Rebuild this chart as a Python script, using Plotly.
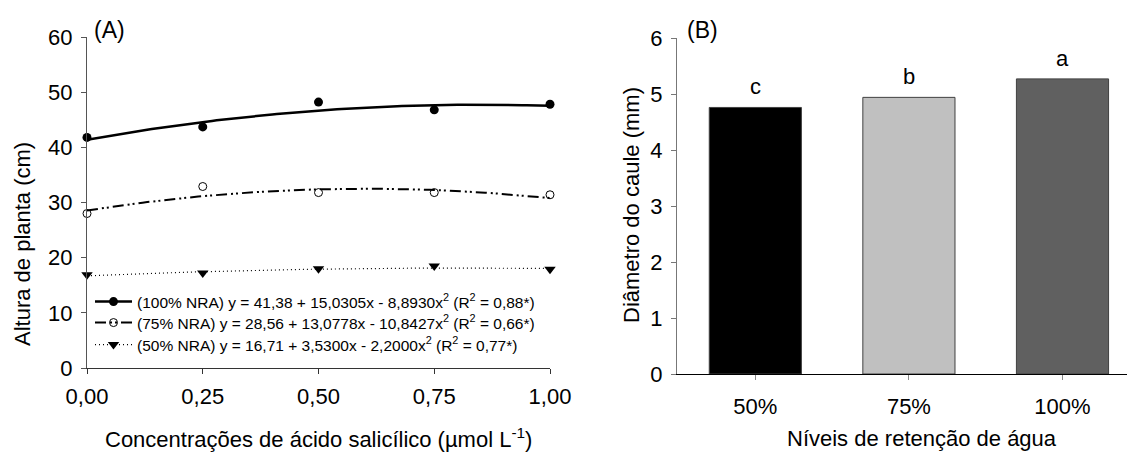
import numpy as np
import plotly.graph_objects as go

# ---------------- Data ----------------
conc = [0.0, 0.25, 0.50, 0.75, 1.00]
conc_ticks = ["0,00", "0,25", "0,50", "0,75", "1,00"]

alt_100 = [41.8, 43.7, 48.2, 46.8, 47.8]
alt_75 = [28.0, 32.9, 31.8, 31.8, 31.4]
alt_50 = [16.9, 17.2, 18.0, 18.5, 17.9]

# regression coefficients (b0, b1, b2) shown in the legend
coef_100 = [41.38, 15.0305, -8.8930]
coef_75 = [28.56, 13.0778, -10.8427]
coef_50 = [16.71, 3.5300, -2.2000]

legend_100 = "(100% NRA) y = 41,38 + 15,0305x - 8,8930x<sup>2</sup> (R<sup>2</sup> = 0,88*)"
legend_75 = "(75% NRA) y = 28,56 + 13,0778x - 10,8427x<sup>2</sup> (R<sup>2</sup> = 0,66*)"
legend_50 = "(50% NRA) y = 16,71 + 3,5300x - 2,2000x<sup>2</sup> (R<sup>2</sup> = 0,77*)"

niveis = ["50%", "75%", "100%"]
diametro = [4.76, 4.94, 5.27]
letras = ["c", "b", "a"]
bar_colors = ["#000000", "#c0c0c0", "#606060"]

FONT = "Liberation Sans, Arial, sans-serif"
W, H = 1128, 455

def px_x(p):
    return p / W

def px_y(p):
    return 1 - p / H

xs = np.linspace(0, 1, 101)

def fit(c):
    return c[0] + c[1] * xs + c[2] * xs ** 2

fig = go.Figure()

series = [
    (alt_100, coef_100, legend_100, "legend", dict(color="black", width=2.5, dash="solid"),
     dict(symbol="circle", size=9, color="black")),
    (alt_75, coef_75, legend_75, "legend2", dict(color="black", width=2, dash="11px,4px,2px,3px,2px,4px"),
     dict(symbol="circle-open", size=8, color="black", line=dict(width=1, color="black"))),
    (alt_50, coef_50, legend_50, "legend3", dict(color="black", width=1.2, dash="1px,3px"),
     dict(symbol="triangle-down", size=10, color="black")),
]

for vals, coef, name, leg, line, marker in series:
    fig.add_trace(go.Scatter(x=xs, y=fit(coef), mode="lines", line=line,
                             showlegend=False, xaxis="x", yaxis="y", hoverinfo="skip"))
    fig.add_trace(go.Scatter(x=conc, y=vals, mode="markers", marker=marker,
                             showlegend=False, xaxis="x", yaxis="y", cliponaxis=False))
    # legend sample (no data drawn)
    fig.add_trace(go.Scatter(x=[None], y=[None], mode="lines+markers", line=line,
                             marker=marker, name=name, legend=leg, xaxis="x", yaxis="y"))

fig.add_trace(go.Bar(x=[0, 1, 2], y=diametro, width=0.6,
                     marker=dict(color=bar_colors, line=dict(color="#404040", width=1)),
                     showlegend=False, xaxis="x2", yaxis="y2"))

def ann(x, y, text, size, **kw):
    d = dict(x=px_x(x), y=px_y(y), xref="paper", yref="paper", text=text, showarrow=False,
             xanchor="center", yanchor="middle", font=dict(size=size, color="black", family=FONT))
    d.update(kw)
    return d

annotations = []
for i, (v, t) in enumerate(zip(diametro, letras)):
    annotations.append(dict(x=i, y=v, xref="x2", yref="y2", text=t, showarrow=False,
                            xanchor="center", yanchor="bottom", yshift=6,
                            font=dict(size=22, color="black", family=FONT)))

annotations += [
    ann(109, 30, "(A)", 23),
    ann(702, 30, "(B)", 23),
    ann(318, 438, "Concentrações de ácido salicílico (µmol L<sup>-1</sup>)", 22),
    ann(922, 438, "Níveis de retenção de água", 22),
    ann(22, 244, "Altura de planta (cm)", 22, textangle=-90),
    ann(632, 205, "Diâmetro do caule (mm)", 22, textangle=-90),
]

tickfont = dict(size=22, color="black", family=FONT)
common = dict(showgrid=False, zeroline=False, showline=True, ticks="outside",
              ticklen=5, tickwidth=1, tickfont=tickfont, automargin=False)

def legend_at(yc):
    return dict(x=px_x(90), y=px_y(yc), xanchor="left", yanchor="middle",
                font=dict(size=15.5, color="black", family=FONT), bgcolor="rgba(0,0,0,0)",
                tracegroupgap=0, itemwidth=37)

fig.update_layout(
    width=W, height=H,
    margin=dict(l=0, r=0, t=0, b=0, autoexpand=False),
    plot_bgcolor="white", paper_bgcolor="white",
    font=dict(family=FONT, color="black"),
    xaxis=dict(domain=[px_x(87), px_x(550)], range=[0, 1], tickvals=conc, ticktext=conc_ticks,
               linecolor="#333333", tickcolor="#333333", anchor="y", ticklabelstandoff=4, **common),
    yaxis=dict(domain=[px_y(368), px_y(37)], range=[0, 60], tickvals=[0, 10, 20, 30, 40, 50, 60],
               linecolor="#555555", tickcolor="#555555", anchor="x", ticklabelstandoff=4, **common),
    xaxis2=dict(domain=[px_x(677), px_x(1127)], range=[-0.51, 2.42], tickvals=[0, 1, 2],
                ticktext=niveis, linecolor="black", tickcolor="#888888", anchor="y2",
                ticklabelstandoff=8, **common),
    yaxis2=dict(domain=[px_y(374), px_y(38)], range=[0, 6], tickvals=[0, 1, 2, 3, 4, 5, 6],
                linecolor="#777777", tickcolor="#777777", anchor="x2", ticklabelstandoff=4, **common),
    legend=legend_at(302),
    legend2=legend_at(323),
    legend3=legend_at(345),
    annotations=annotations,
)

fig.write_html("out.html")
